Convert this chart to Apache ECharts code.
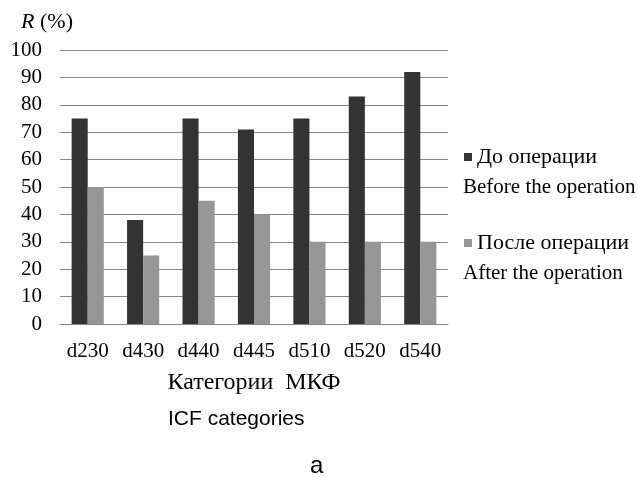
<!DOCTYPE html>
<html>
<head>
<meta charset="utf-8">
<script src="https://cdn.jsdelivr.net/npm/echarts@6/dist/echarts.min.js"></script>
<style>
  html, body { margin: 0; padding: 0; background: #fff; }
  #chart { width: 638px; height: 477px; }
</style>
</head>
<body>
<div id="chart"></div>
<script>
const categories = ['d230', 'd430', 'd440', 'd445', 'd510', 'd520', 'd540']
const beforeOp = [75, 38, 75, 71, 75, 83, 92]
const afterOp = [50, 25, 45, 40, 30, 30, 30]
const seriesNames = ['До операции', 'После операции']
const seriesNamesEn = ['Before the operation', 'After the operation']

const serif = '"Liberation Serif", "DejaVu Serif", serif'
const sans = '"Liberation Sans", Arial, sans-serif'

const chart = echarts.init(document.getElementById('chart'))
const option = {
  backgroundColor: '#fff',
  animation: false,
  grid: { left: 60, right: 190, top: 50, bottom: 153 },
  legend: {
    orient: 'vertical',
    left: 459,
    top: 141,
    itemGap: 64,
    itemWidth: 8,
    itemHeight: 8,
    icon: 'rect',
    data: seriesNames,
    textStyle: { fontFamily: serif, fontSize: 22, color: '#000' }
  },
  graphic: [
    { type: 'text', left: 463, top: 177, style: { text: seriesNamesEn[0], font: '21px ' + serif, fill: '#000' } },
    { type: 'text', left: 463, top: 263, style: { text: seriesNamesEn[1], font: '21px ' + serif, fill: '#000' } },
    { type: 'text', left: 168, top: 409, style: { text: 'ICF categories', font: '21px ' + sans, fill: '#000' } },
    { type: 'text', left: 310, top: 454, style: { text: 'a', font: '24px ' + sans, fill: '#000' } }
  ],
  xAxis: {
    type: 'category',
    data: categories,
    axisTick: { show: false },
    axisLine: { lineStyle: { color: '#868686' } },
    axisLabel: { fontFamily: serif, fontSize: 21, color: '#000', margin: 17 },
    name: 'Категории  МКФ',
    nameLocation: 'middle',
    nameGap: 47,
    nameTextStyle: { fontFamily: serif, fontSize: 24, color: '#000' }
  },
  yAxis: {
    type: 'value',
    min: 0,
    max: 100,
    interval: 10,
    axisLine: { show: false },
    axisTick: { show: false },
    splitLine: { lineStyle: { color: '#868686' } },
    axisLabel: { fontFamily: serif, fontSize: 21, color: '#000', margin: 18 },
    name: '{i|R} (%)',
    nameGap: 17,
    nameTextStyle: {
      fontFamily: serif,
      fontSize: 22,
      color: '#000',
      padding: [0, 26, 0, 0],
      rich: { i: { fontFamily: serif, fontSize: 22, fontStyle: 'italic', color: '#000' } }
    }
  },
  series: [
    {
      name: seriesNames[0],
      type: 'bar',
      data: beforeOp,
      barGap: '0%',
      barCategoryGap: '42%',
      itemStyle: { color: '#333333' }
    },
    {
      name: seriesNames[1],
      type: 'bar',
      data: afterOp,
      itemStyle: { color: '#969696' }
    }
  ]
}
chart.setOption(option)
</script>
</body>
</html>
